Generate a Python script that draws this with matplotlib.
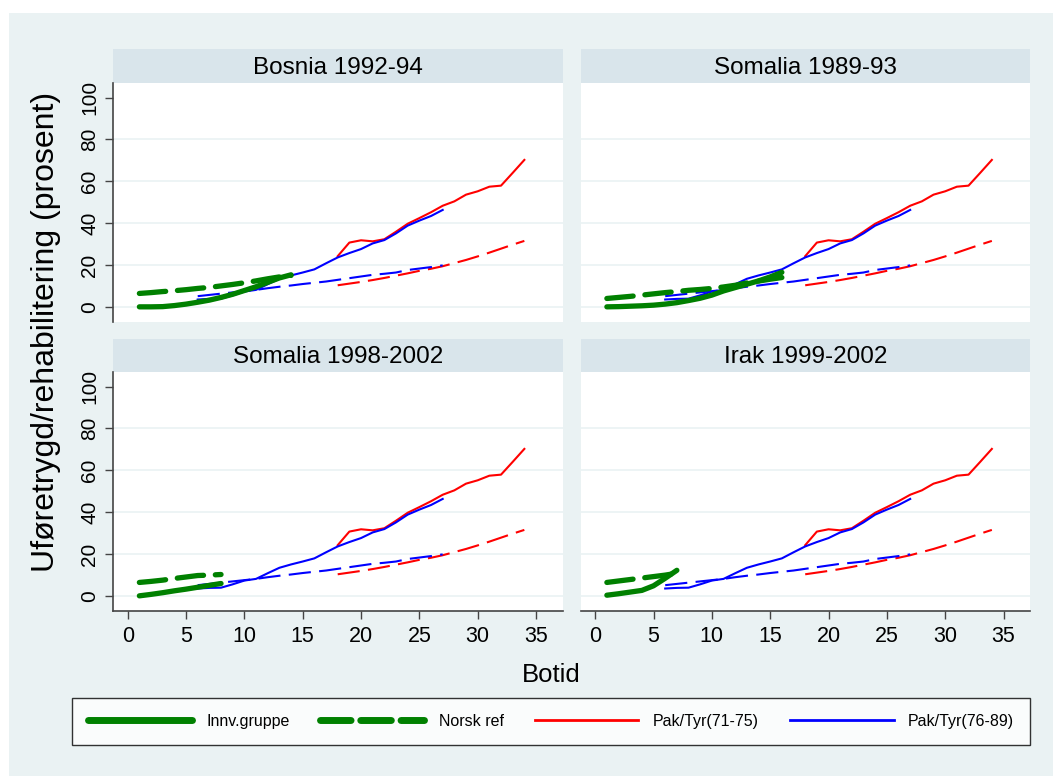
import matplotlib
matplotlib.use("Agg")
import matplotlib.pyplot as plt
from matplotlib.lines import Line2D
from matplotlib.patches import Rectangle

plt.rcParams["font.family"] = ["Liberation Sans", "DejaVu Sans"]
plt.rcParams["lines.scale_dashes"] = False

# ---- data ----
panel_titles = ["Bosnia 1992-94", "Somalia 1989-93", "Somalia 1998-2002", "Irak 1999-2002"]

innv_years = [
    list(range(1, 15)),
    list(range(1, 17)),
    list(range(1, 9)),
    list(range(1, 8)),
]
innv_vals = [
    [0, 0, 0.1, 0.6, 1.3, 2.2, 3.2, 4.5, 6.0, 7.8, 9.6, 11.7, 13.8, 15.3],
    [0, 0.1, 0.3, 0.5, 0.8, 1.3, 2.0, 3.0, 4.1, 5.6, 7.6, 9.2, 10.8, 12.4, 14.3, 16.5],
    [0, 0.7, 1.5, 2.4, 3.2, 4.1, 5.0, 5.9],
    [0.3, 1.0, 1.8, 2.6, 4.8, 8.4, 12.2],
]
norsk_vals = [
    [6.4, 6.8, 7.3, 7.7, 8.2, 8.8, 9.3, 10.0, 10.7, 11.5, 12.4, 13.4, 14.3, 15.0],
    [4.0, 4.5, 5.0, 5.6, 6.2, 6.8, 7.3, 7.9, 8.3, 8.8, 9.5, 10.3, 11.4, 12.3, 13.2, 14.0],
    [6.4, 6.9, 7.5, 8.3, 9.0, 9.7, 9.9, 10.2],
    [6.4, 7.1, 7.8, 8.5, 9.2, 9.9, 10.8],
]

pak7175_years = list(range(18, 35))
pak7175_vals = [24.2, 30.7, 31.8, 31.3, 32.3, 35.9, 39.7, 42.4, 45.2, 48.3,
                50.4, 53.6, 55.2, 57.4, 57.9, 64.0, 70.2]
pak7175_ref = [10.3, 11.1, 11.9, 12.8, 13.8, 14.9, 16.0, 17.2, 18.2, 19.4,
               20.9, 22.4, 24.1, 25.9, 27.8, 29.7, 31.5]

pak7689_years = list(range(6, 28))
pak7689_vals = [3.5, 3.8, 3.9, 5.5, 7.3, 8.1, 10.8, 13.4, 15.0, 16.4, 17.9,
                20.8, 23.6, 25.7, 27.6, 30.3, 31.9, 35.1, 38.8, 41.2, 43.4, 46.3]
pak7689_ref = [5.1, 5.7, 6.3, 6.9, 7.5, 8.1, 8.9, 9.6, 10.2, 10.9, 11.5,
               12.1, 12.9, 13.7, 14.5, 15.3, 15.8, 16.4, 17.6, 18.3, 19.0, 19.8]

y_ticks = [0, 20, 40, 60, 80, 100]
x_ticks = [0, 5, 10, 15, 20, 25, 30, 35]

# ---- styles ----
W, H = 1053, 776
BG = "#EAF2F3"
STRIP = "#D9E5EB"
GREEN = "#008000"
green_lw = 3.8
green_dash = (19, 8.5)
thin_lw = 1.5
thin_dash = (16, 6)


def frac(left, top, right, bottom):
    return [left / W, 1 - bottom / H, (right - left) / W, (bottom - top) / H]


fig = plt.figure(figsize=(W / 100, H / 100), dpi=100)
fig.patch.set_facecolor("white")
fig.patches.append(Rectangle((9 / W, 0), 1, 1 - 13 / H, transform=fig.transFigure,
                             facecolor=BG, edgecolor="none", zorder=-10))

cols = [(113, 562.5), (580.5, 1030)]
rows = [(49.5, 83.3, 321.7), (339.3, 372.3, 610.7)]

for i, title in enumerate(panel_titles):
    r, c = divmod(i, 2)
    left, right = cols[c]
    stop, ptop, pbot = rows[r]

    fig.patches.append(Rectangle((left / W, 1 - ptop / H), (right - left) / W,
                                 (ptop - stop) / H, transform=fig.transFigure,
                                 facecolor=STRIP, edgecolor="none", zorder=-5))
    fig.text((left + right) / 2 / W, 1 - (ptop - 9.5) / H, title,
             ha="center", va="baseline", fontsize=17.5)

    ax = fig.add_axes(frac(left, ptop, right, pbot))
    ax.set_facecolor("white")
    ax.set_xlim(-1.26, 37.27)
    ax.set_ylim(-7.1, 106.8)
    for y in y_ticks[:-1]:
        ax.axhline(y, color=BG, lw=1.2, zorder=0)

    ax.plot(innv_years[i], innv_vals[i], color=GREEN, lw=green_lw,
            solid_capstyle="round", zorder=3)
    ax.plot(innv_years[i], norsk_vals[i], color=GREEN, lw=green_lw,
            dashes=green_dash, dash_capstyle="round", zorder=3)
    ax.plot(pak7175_years, pak7175_vals, color="red", lw=thin_lw, zorder=2)
    ax.plot(pak7175_years, pak7175_ref, color="red", lw=thin_lw,
            dashes=thin_dash, zorder=2)
    ax.plot(pak7689_years, pak7689_vals, color="blue", lw=thin_lw, zorder=2)
    ax.plot(pak7689_years, pak7689_ref, color="blue", lw=thin_lw,
            dashes=thin_dash, zorder=2)

    for s in ax.spines.values():
        s.set_visible(False)
    ax.set_yticks(y_ticks)
    ax.set_xticks(x_ticks)
    ax.tick_params(colors="#444444", labelcolor="black", length=6, width=1)
    if c == 0:
        ax.spines["left"].set_visible(True)
        ax.spines["left"].set_color("#444444")
        ax.spines["left"].set_linewidth(1.2)
        ax.tick_params(axis="y", labelsize=15, pad=4)
        for lab in ax.get_yticklabels():
            lab.set_rotation(90)
            lab.set_va("center")
    else:
        ax.tick_params(axis="y", left=False, labelleft=False)
    if r == 1:
        ax.spines["bottom"].set_visible(True)
        ax.spines["bottom"].set_color("#444444")
        ax.spines["bottom"].set_linewidth(1.2)
        ax.tick_params(axis="x", labelsize=15.5, pad=5)
    else:
        ax.tick_params(axis="x", bottom=False, labelbottom=False)

fig.text(46 / W, 1 - 332 / H, "Uføretrygd/rehabilitering (prosent)",
         rotation=90, ha="center", va="center", fontsize=23)
fig.text(551 / W, 1 - 681.5 / H, "Botid", ha="center", va="baseline", fontsize=18.5)

handles = [
    Line2D([], [], color=GREEN, lw=5, solid_capstyle="round"),
    Line2D([], [], color=GREEN, lw=5, dashes=(22, 7), dash_capstyle="round"),
    Line2D([], [], color="red", lw=2),
    Line2D([], [], color="blue", lw=2),
]
labels = ["Innv.gruppe", "Norsk ref", "Pak/Tyr(71-75)", "Pak/Tyr(76-89)"]
leg = fig.legend(handles, labels, ncol=4, mode="expand",
                 bbox_to_anchor=(72 / W, 1 - 746 / H, 958 / W, 49 / H),
                 loc="center", borderaxespad=0, fontsize=11.5, handlelength=6.5,
                 handletextpad=0.9, borderpad=1.0, frameon=True, fancybox=False)
leg.get_frame().set_edgecolor("black")
leg.get_frame().set_linewidth(1.0)
leg.get_frame().set_facecolor("white")

fig.savefig("out.png", dpi=100, facecolor=fig.get_facecolor())
